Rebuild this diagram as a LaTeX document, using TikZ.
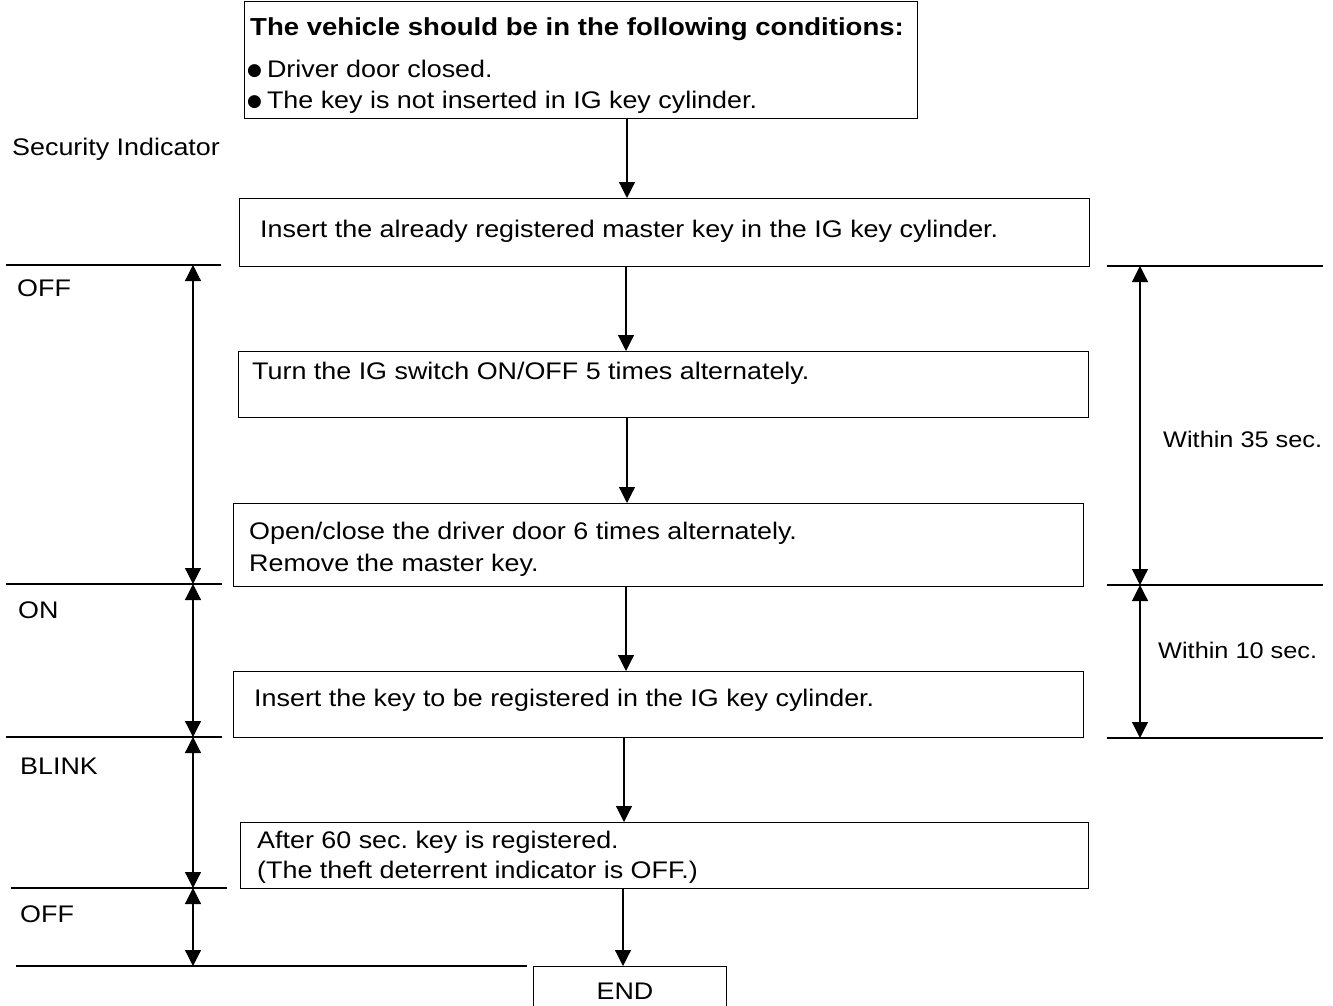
\documentclass[tikz,border=0pt]{standalone}
\usepackage{fontspec}
\setmainfont{Liberation Sans}[FakeStretch=1.12]
\newfontfamily\bulfont{DejaVu Sans}
\usetikzlibrary{arrows.meta}
\frenchspacing
\newcommand{\bul}{\raisebox{2pt}{\bulfont\fontsize{17}{17}\selectfont ●}\hspace{5pt}}
\begin{document}
\begin{tikzpicture}[x=1pt,y=-1pt,
  lw/.style={line width=1.2pt},
  box/.style={draw,lw,inner sep=0pt,anchor=north west},
  txt/.style={anchor=base west,inner sep=0pt,font=\frenchspacing\fontsize{24}{28}\selectfont},
  arr/.style={lw,-{Triangle[width=16pt,length=16pt]}},
  dimarr/.style={lw,{Triangle[width=16pt,length=16pt]}-{Triangle[width=16pt,length=16pt]}},
]
\useasboundingbox (0,0) rectangle (1333,1006);
\clip (0,0) rectangle (1333,1006);

% boxes
\node[box,minimum width=673pt,minimum height=117pt] (b1) at (244,1) {};
\node[box,minimum width=850pt,minimum height=68pt] (b2) at (239,198) {};
\node[box,minimum width=850pt,minimum height=66pt] (b3) at (238,351) {};
\node[box,minimum width=850pt,minimum height=83pt] (b4) at (233,503) {};
\node[box,minimum width=850pt,minimum height=66pt] (b5) at (233,671) {};
\node[box,minimum width=848pt,minimum height=66pt] (b6) at (240,822) {};
\node[box,minimum width=193pt,minimum height=70pt] (bend) at (533,966) {};

% box texts
\node[txt,font=\frenchspacing\fontsize{24.6}{28}\selectfont] (t1a) at (250,36) {\textbf{The vehicle should be in the following conditions:}};
\node[txt] (t1b) at (247,78) {\bul Driver door closed.};
\node[txt] (t1c) at (247,109) {\bul The key is not inserted in IG key cylinder.};
\node[txt] (t2) at (260,237) {Insert the already registered master key in the IG key cylinder.};
\node[txt] (t3) at (252,379) {Turn the IG switch ON/OFF 5 times alternately.};
\node[txt] (t4a) at (249,539) {Open/close the driver door 6 times alternately.};
\node[txt] (t4b) at (249,571) {Remove the master key.};
\node[txt] (t5) at (254,706) {Insert the key to be registered in the IG key cylinder.};
\node[txt] (t6a) at (257,848) {After 60 sec. key is registered.};
\node[txt] (t6b) at (257,878) {(The theft deterrent indicator is OFF.)};
\node[txt,anchor=base] (tend) at (625,999) {END};

% flow arrows
\coordinate (x1) at (627,0);
\coordinate (x2) at (626,0);
\coordinate (x3) at (627,0);
\coordinate (x4) at (626,0);
\coordinate (x5) at (624,0);
\coordinate (x6) at (623,0);
\draw[arr] (x1 |- b1.south) -- (x1 |- b2.north);
\draw[arr] (x2 |- b2.south) -- (x2 |- b3.north);
\draw[arr] (x3 |- b3.south) -- (x3 |- b4.north);
\draw[arr] (x4 |- b4.south) -- (x4 |- b5.north);
\draw[arr] (x5 |- b5.south) -- (x5 |- b6.north);
\draw[arr] (x6 |- b6.south) -- (x6 |- bend.north);

% left side labels
\node[txt] (sec) at (12,155) {Security Indicator};
\node[txt] (s1) at (17,296) {OFF};
\node[txt] (s2) at (18,618) {ON};
\node[txt] (s3) at (20,774) {BLINK};
\node[txt] (s4) at (20,922) {OFF};

% left rules
\coordinate (la0) at (6,265);   \coordinate (lb0) at (221,265);
\coordinate (la1) at (6,584);   \coordinate (lb1) at (222,584);
\coordinate (la2) at (6,737);   \coordinate (lb2) at (222,737);
\coordinate (la3) at (11,888);  \coordinate (lb3) at (227,888);
\coordinate (la4) at (16,966);  \coordinate (lb4) at (527,966);
\foreach \i in {0,...,4} \draw[lw] (la\i) -- (lb\i);
\coordinate (ld0) at (193,265);
\coordinate (ld1) at (193,584);
\coordinate (ld2) at (193,737);
\coordinate (ld3) at (193,888);
\coordinate (ld4) at (193,966);
\draw[dimarr] (ld0) -- (ld1);
\draw[dimarr] (ld1) -- (ld2);
\draw[dimarr] (ld2) -- (ld3);
\draw[dimarr] (ld3) -- (ld4);

% right rules
\coordinate (ra0) at (1107,266);  \coordinate (rb0) at (1323,266);
\coordinate (ra1) at (1107,585);  \coordinate (rb1) at (1323,585);
\coordinate (ra2) at (1107,738);  \coordinate (rb2) at (1323,738);
\foreach \i in {0,1,2} \draw[lw] (ra\i) -- (rb\i);
\coordinate (rd0) at (1140,266);
\coordinate (rd1) at (1140,585);
\coordinate (rd2) at (1140,738);
\draw[dimarr] (rd0) -- (rd1);
\draw[dimarr] (rd1) -- (rd2);
\node[txt,font=\frenchspacing\fontsize{22.6}{28}\selectfont] (w35) at (1163,447) {Within 35 sec.};
\node[txt,font=\frenchspacing\fontsize{22.6}{28}\selectfont] (w10) at (1158,658) {Within 10 sec.};
\end{tikzpicture}
\end{document}
